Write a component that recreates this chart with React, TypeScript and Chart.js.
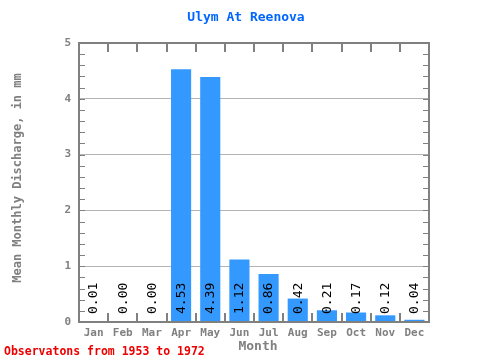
import React, { useEffect, useRef } from "react";
import { Chart, registerables } from "chart.js";

Chart.register(...registerables);

const months = ["Jan", "Feb", "Mar", "Apr", "May", "Jun", "Jul", "Aug", "Sep", "Oct", "Nov", "Dec"];
const discharge = [0.01, 0.0, 0.0, 4.53, 4.39, 1.12, 0.86, 0.42, 0.21, 0.17, 0.12, 0.04];
const valueLabels = ["0.01", "0.00", "0.00", "4.53", "4.39", "1.12", "0.86", "0.42", "0.21", "0.17", "0.12", "0.04"];
const yTicks = [0, 1, 2, 3, 4, 5];
const titleText = "Ulym At Reenova";
const yTitle = "Mean Monthly Discharge, in mm";
const xTitle = "Month";
const footnote = "Observatons from 1953 to 1972";

const MONO = "'DejaVu Sans Mono', monospace";
const AXIS = "#808080";

const decor = {
  id: "decor",
  afterDatasetsDraw(chart: any) {
    const ctx = chart.ctx;
    const x = chart.scales.x;
    const y = chart.scales.y;
    const base = y.getPixelForValue(0);
    ctx.save();
    ctx.fillStyle = "#000";
    ctx.font = `13px ${MONO}`;
    ctx.textAlign = "left";
    ctx.textBaseline = "middle";
    valueLabels.forEach((t, i) => {
      const cx = x.getPixelForValue(i);
      ctx.save();
      ctx.translate(cx + 0.5, base - 8);
      ctx.rotate(-Math.PI / 2);
      ctx.fillText(t, 0, 0);
      ctx.restore();
    });
    ctx.restore();
  },
  afterDraw(chart: any) {
    const ctx = chart.ctx;
    const a = chart.chartArea;
    const x = chart.scales.x;
    const y = chart.scales.y;
    ctx.save();
    ctx.strokeStyle = AXIS;
    ctx.lineWidth = 2;
    ctx.strokeRect(a.left, a.top, a.right - a.left, a.bottom - a.top);
    ctx.lineWidth = 1;
    ctx.beginPath();
    for (let i = 1; i < 25; i++) {
      const py = Math.round(y.getPixelForValue(i * 0.2)) + 0.5;
      ctx.moveTo(a.left, py);
      ctx.lineTo(a.left + 6, py);
      ctx.moveTo(a.right, py);
      ctx.lineTo(a.right - 6, py);
    }
    ctx.stroke();
    ctx.lineWidth = 2;
    ctx.beginPath();
    const step = (a.right - a.left) / months.length;
    for (let i = 1; i < months.length; i++) {
      const px = Math.round(x.getPixelForValue(i) - step / 2);
      ctx.moveTo(px, a.top);
      ctx.lineTo(px, a.top + 9);
      ctx.moveTo(px, a.bottom);
      ctx.lineTo(px, a.bottom - 9);
    }
    ctx.stroke();

    ctx.textAlign = "center";
    ctx.textBaseline = "middle";
    ctx.fillStyle = "#0066ff";
    ctx.font = `bold 13px ${MONO}`;
    ctx.fillText(titleText, 246, 18);

    ctx.fillStyle = AXIS;
    ctx.font = `bold 13px ${MONO}`;
    ctx.fillText(xTitle, 258, 347);

    ctx.save();
    ctx.translate(18, 178);
    ctx.rotate(-Math.PI / 2);
    ctx.font = `bold 12px ${MONO}`;
    ctx.fillText(yTitle, 0, 0);
    ctx.restore();

    ctx.fillStyle = "#ee0000";
    ctx.font = `bold 11.5px ${MONO}`;
    ctx.textAlign = "left";
    ctx.fillText(footnote, 4, 352);
    ctx.restore();
  },
};

export default function App() {
  const ref = useRef<HTMLCanvasElement>(null);
  useEffect(() => {
    if (!ref.current) return;
    const chart = new Chart(ref.current, {
      type: "bar",
      data: {
        labels: months,
        datasets: [
          {
            data: discharge,
            backgroundColor: "#3399ff",
            borderWidth: 0,
            barPercentage: 0.69,
            categoryPercentage: 1,
          },
        ],
      },
      options: {
        responsive: false,
        animation: false,
        devicePixelRatio: 1,
        layout: { padding: { top: 43, right: 51, left: 0, bottom: 0 } },
        plugins: { legend: { display: false }, tooltip: { enabled: false }, title: { display: false } },
        scales: {
          x: {
            grid: { display: false, drawTicks: false },
            border: { display: false },
            ticks: { color: AXIS, font: { family: MONO, size: 11, weight: "bold" }, padding: 5, maxRotation: 0 },
            afterFit: (s: any) => {
              s.height = 38;
            },
          },
          y: {
            min: 0,
            max: 5,
            grid: { color: "#b4b4b4", drawTicks: false, lineWidth: 1 },
            border: { display: false },
            ticks: {
              stepSize: 1,
              color: AXIS,
              font: { family: MONO, size: 11, weight: "bold" },
              padding: 8,
              callback: (v: any) => (yTicks.includes(Number(v)) ? String(v) : ""),
            },
            afterFit: (s: any) => {
              s.width = 79;
            },
          },
        },
      },
      plugins: [decor],
    } as any);
    return () => chart.destroy();
  }, []);
  return (
    <div style={{ position: "absolute", left: 0, top: 0, width: 480, height: 360 }}>
      <canvas ref={ref} width={480} height={360} />
    </div>
  );
}
